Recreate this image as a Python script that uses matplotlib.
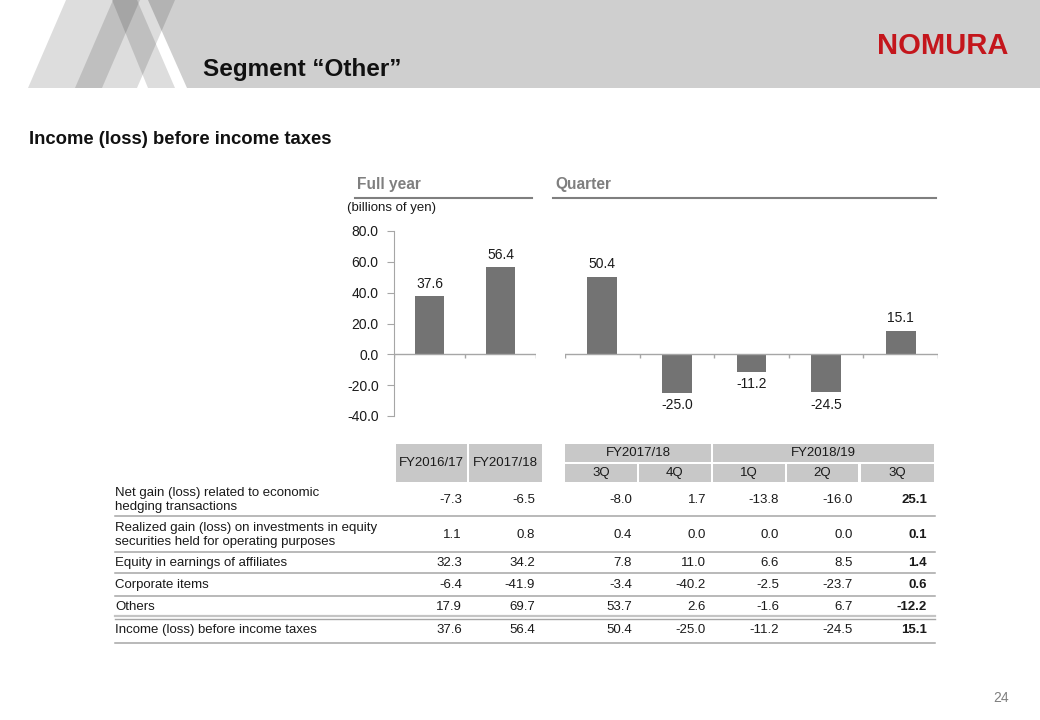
import matplotlib
matplotlib.use("Agg")
import matplotlib.pyplot as plt
from matplotlib.patches import Polygon, Rectangle
from matplotlib.lines import Line2D

plt.rcParams['font.family'] = ['Liberation Sans', 'DejaVu Sans']

W, H = 1040, 720

# chart data (billions of yen)
fy_labels = ["FY2016/17", "FY2017/18"]
fy_values = [37.6, 56.4]
q_groups = ["FY2017/18", "FY2018/19"]
q_labels = ["3Q", "4Q", "1Q", "2Q", "3Q"]
q_values = [50.4, -25.0, -11.2, -24.5, 15.1]
y_ticks = [-40, -20, 0, 20, 40, 60, 80]

# table data
row_labels = [
    "Net gain (loss) related to economic\nhedging transactions",
    "Realized gain (loss) on investments in equity\nsecurities held for operating purposes",
    "Equity in earnings of affiliates",
    "Corporate items",
    "Others",
    "Income (loss) before income taxes",
]
fy1617 = [-7.3, 1.1, 32.3, -6.4, 17.9, 37.6]
fy1718 = [-6.5, 0.8, 34.2, -41.9, 69.7, 56.4]
q3_1718 = [-8.0, 0.4, 7.8, -3.4, 53.7, 50.4]
q4_1718 = [1.7, 0.0, 11.0, -40.2, 2.6, -25.0]
q1_1819 = [-13.8, 0.0, 6.6, -2.5, -1.6, -11.2]
q2_1819 = [-16.0, 0.0, 8.5, -23.7, 6.7, -24.5]
q3_1819 = [25.1, 0.1, 1.4, 0.6, -12.2, 15.1]

BAR = '#737373'
AXC = '#a6a6a6'
TXT = '#1a1a1a'
HDR = '#c8c8c8'

fig = plt.figure(figsize=(W / 100, H / 100), dpi=100)


def fx(x):
    return x / W


def fy(y):
    return 1 - y / H


def ftext(x, y, s, **kw):
    kw.setdefault('color', TXT)
    fig.text(fx(x), fy(y), s, **kw)


def hline(x0, x1, y, color=AXC, lw=1.0):
    fig.add_artist(Line2D([fx(x0), fx(x1)], [fy(y), fy(y)], color=color, lw=lw))


def box(x0, y0, x1, y1, color=HDR):
    fig.add_artist(Rectangle((fx(x0), fy(y1)), fx(x1) - fx(x0), fy(y0) - fy(y1),
                             fc=color, ec='none'))


def poly(pts, **kw):
    fig.add_artist(Polygon([(fx(x), fy(y)) for x, y in pts], closed=True, ec='none', **kw))


# header band + see-through diagonal strokes
poly([(148, 0), (W, 0), (W, 88), (187, 88)], fc='#cfcfcf')
poly([(28, 88), (102, 88), (140, 0), (66, 0)], fc='k', alpha=0.135)
poly([(75, 88), (137, 88), (175, 0), (113, 0)], fc='k', alpha=0.135)
poly([(112, 0), (137, 0), (175, 88), (148, 88)], fc='k', alpha=0.135)

ftext(203, 76, "Segment \u201cOther\u201d", fontsize=17.5, weight='bold', va='baseline', color='#111111')
ftext(877, 54, "NOMURA", fontsize=21, weight='bold', va='baseline', color='#c4161c')
ftext(29, 144, "Income (loss) before income taxes", fontsize=13.3, weight='bold', va='baseline',
      color='#111111')

# section headings
ftext(357, 189, "Full year", fontsize=11.2, weight='bold', color='#7f7f7f', va='baseline')
ftext(555, 189, "Quarter", fontsize=11.2, weight='bold', color='#7f7f7f', va='baseline')
hline(355, 532, 198, color='#7f7f7f', lw=1.5)
hline(553, 936, 198, color='#7f7f7f', lw=1.5)
ftext(347, 208, "(billions of yen)", fontsize=9.5, va='center')

# bar charts
y_top, y_bot = 231, 416
ax1 = fig.add_axes([fx(394), fy(y_bot), fx(536) - fx(394), fy(y_top) - fy(y_bot)])
ax2 = fig.add_axes([fx(565), fy(y_bot), fx(938) - fx(565), fy(y_top) - fy(y_bot)])

for ax, vals, width in [(ax1, fy_values, 0.42), (ax2, q_values, 0.4)]:
    n = len(vals)
    xs = list(range(n))
    ax.bar(xs, vals, width=width, color=BAR, zorder=2)
    ax.set_xlim(-0.5, n - 0.5)
    ax.set_ylim(y_ticks[0], y_ticks[-1])
    ax.axhline(0, color=AXC, lw=1, zorder=3)
    ax.vlines([i - 0.5 for i in range(n + 1)], -2.5, 0, color=AXC, lw=1)
    for s in ['top', 'right', 'bottom']:
        ax.spines[s].set_visible(False)
    ax.set_xticks([])
    ax.patch.set_alpha(0)
    for x, v in zip(xs, vals):
        ax.annotate(f"{v:.1f}", (x, v), xytext=(0, 4 if v >= 0 else -4),
                    textcoords='offset points', ha='center',
                    va='bottom' if v >= 0 else 'top', fontsize=10, color=TXT)

ax1.spines['left'].set_color(AXC)
ax1.set_yticks(y_ticks)
ax1.set_yticklabels([f"{t:.1f}" for t in y_ticks])
ax1.tick_params(axis='y', length=5, color=AXC, labelsize=10, labelcolor=TXT, pad=6)
ax2.spines['left'].set_visible(False)
ax2.set_yticks([])

# table header
fy_cols = [(396, 467), (469, 542)]
q_cols = [(565, 637), (639, 711), (713, 785), (787, 858), (861, 934)]
for (x0, x1), lab in zip(fy_cols, fy_labels):
    box(x0, 444, x1, 482)
    ftext((x0 + x1) / 2, 463, lab, fontsize=9.5, ha='center', va='center')
for (x0, x1), lab in zip([(565, 711), (713, 934)], q_groups):
    box(x0, 444, x1, 462)
    ftext((x0 + x1) / 2, 453, lab, fontsize=9.5, ha='center', va='center')
for (x0, x1), lab in zip(q_cols, q_labels):
    box(x0, 464, x1, 482)
    ftext((x0 + x1) / 2, 473, lab, fontsize=9.5, ha='center', va='center')

# table body
columns = [fy1617, fy1718, q3_1718, q4_1718, q1_1819, q2_1819, q3_1819]
col_right = [462, 535, 632, 706, 779, 853, 927]
row_y = [500, 535, 563, 585, 607, 630]
for i, lab in enumerate(row_labels):
    ftext(115, row_y[i], lab, fontsize=9.5, ha='left', va='center', linespacing=1.25)
    for j, col in enumerate(columns):
        ftext(col_right[j], row_y[i], f"{col[i]:.1f}", fontsize=9.5, ha='right', va='center',
              weight='bold' if j == len(columns) - 1 else 'normal')

for y in [516, 552, 573, 596]:
    hline(115, 935, y, lw=1.1)
hline(115, 935, 616, color='#c4c4c4', lw=1.6)
hline(115, 935, 619, lw=1.0)
hline(115, 935, 643, lw=1.1)

ftext(1009, 702, "24", fontsize=10, ha='right', va='baseline', color='#7f7f7f')

fig.savefig("out.png", dpi=100)
